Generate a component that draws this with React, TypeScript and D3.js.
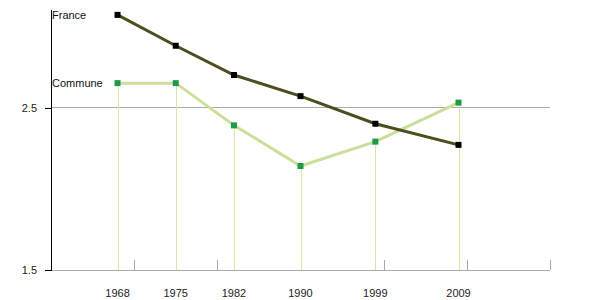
import React from "react";
import * as d3 from "d3";

const years = [1968, 1975, 1982, 1990, 1999, 2009];
const franceValues = [3.07, 2.88, 2.7, 2.57, 2.4, 2.27];
const communeValues = [2.65, 2.65, 2.39, 2.14, 2.29, 2.53];
const yTicks = [1.5, 2.5];
const xMinorTicks = [1970, 1980, 1990, 2000, 2010, 2020];
const seriesNames = ["France", "Commune"];

export default function App() {
  const W = 600, H = 300;
  const x = d3.scaleLinear().domain([1960, 2020]).range([51, 550]);
  const y = d3.scaleLinear().domain([1.5, 3.1]).range([270, 10]);
  const line = d3.line<number>().x((_, i) => x(years[i])).y((d) => y(d));
  const font = "Liberation Sans, Arial, sans-serif";
  return (
    <svg width={W} height={H} style={{ position: "absolute", left: 0, top: 0 }}>
      <rect width={W} height={H} fill="#fff" />
      <line x1={x(1960)} x2={x(2020)} y1={y(2.5)} y2={y(2.5)} stroke="#aaa" strokeWidth={1} />
      <line x1={x(1960)} x2={x(2020)} y1={y(1.5) + 0.5} y2={y(1.5) + 0.5} stroke="#aaa" strokeWidth={1} />
      {xMinorTicks.map((t) => (
        <line key={t} x1={Math.round(x(t)) + 0.5} x2={Math.round(x(t)) + 0.5} y1={y(1.5) - 10} y2={y(1.5)} stroke="#aaa" />
      ))}
      {communeValues.map((v, i) => (
        <line key={i} x1={Math.round(x(years[i])) + 0.5} x2={Math.round(x(years[i])) + 0.5} y1={y(v)} y2={y(1.5)} stroke="#dde3a8" strokeWidth={1} />
      ))}
      <line x1={51.5} x2={51.5} y1={10} y2={y(1.5) + 1} stroke="#000" strokeWidth={1} />
      {yTicks.map((t) => (
        <g key={t}>
          <line x1={45} x2={51} y1={Math.round(y(t)) + 0.5} y2={Math.round(y(t)) + 0.5} stroke="#000" />
          <text x={37} y={y(t) + 4} textAnchor="end" fontFamily={font} fontSize={11} fill="#222">{t.toFixed(1)}</text>
        </g>
      ))}
      {years.map((yr) => (
        <text key={yr} x={x(yr)} y={297} textAnchor="middle" fontFamily={font} fontSize={11} fill="#222">{yr}</text>
      ))}
      <path d={line(communeValues) || ""} fill="none" stroke="#c9df9a" strokeWidth={3} />
      <path d={line(franceValues) || ""} fill="none" stroke="#4f4d1e" strokeWidth={3} />
      {communeValues.map((v, i) => (
        <rect key={i} x={x(years[i]) - 3} y={y(v) - 3} width={6} height={6} fill="#1f9a48" />
      ))}
      {franceValues.map((v, i) => (
        <rect key={i} x={x(years[i]) - 3} y={y(v) - 3} width={6} height={6} fill="#000" />
      ))}
      <text x={52} y={y(franceValues[0]) + 4} fontFamily={font} fontSize={11} fill="#111">{seriesNames[0]}</text>
      <text x={52} y={y(communeValues[0]) + 4} fontFamily={font} fontSize={11} fill="#111">{seriesNames[1]}</text>
    </svg>
  );
}
